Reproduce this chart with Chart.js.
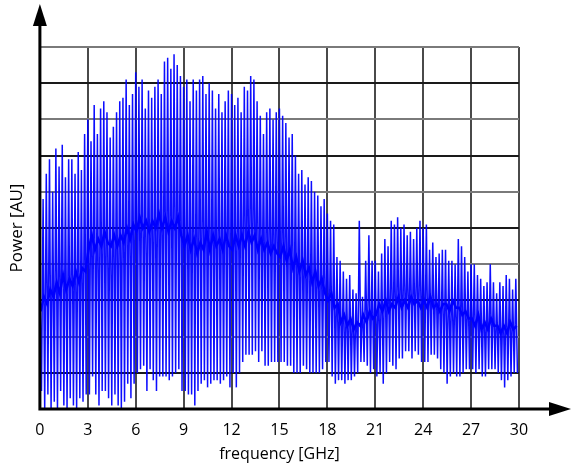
<!DOCTYPE html>
<html>
<head>
<meta charset="utf-8">
<script src="https://cdn.jsdelivr.net/npm/chart.js@4"></script>
<style>
  html, body { margin: 0; padding: 0; background: #fff; }
  #wrap { width: 573px; height: 466px; position: relative; }
</style>
</head>
<body>
<div id="wrap"><canvas id="spectrum"></canvas></div>
<script>
// x ticks (GHz)
const freqTicks = [0, 3, 6, 9, 12, 15, 18, 21, 24, 27, 30];
const stepGHz = 0.2;

// peak (upper) values of each oscillation, one every 0.2 GHz
const peaks = [
  3.3, 5.8, 6.5, 6.9, 6.0, 7.2, 6.7, 7.3, 6.4, 6.9, 6.9, 6.5, 7.1, 6.6, 7.6,
  8.0, 7.4, 8.4, 7.6, 8.3, 8.5, 8.2, 7.5, 7.8, 8.2, 8.5, 8.6, 9.1, 8.4, 8.7,
  9.3, 8.9, 9.1, 8.3, 8.8, 8.6, 8.9, 9.1, 8.7, 9.6, 9.7, 9.4, 9.8, 9.5, 9.2,
  8.9, 9.1, 8.5, 9.1, 8.8, 9.1, 9.2, 8.7, 9.0, 8.8, 8.3, 8.7, 8.2, 8.5, 8.8,
  8.7, 8.4, 8.6, 8.2, 8.9, 8.8, 9.2, 9.1, 8.5, 8.1, 7.6, 8.2, 8.3, 8.0, 8.2,
  8.3, 8.1, 7.9, 7.5, 7.6, 7.0, 6.5, 6.6, 6.2, 6.4, 6.3, 6.0, 5.9, 5.6, 5.8,
  5.4, 5.2, 5.1, 4.2, 4.1, 3.8, 3.6, 3.7, 3.3, 3.2, 5.2, 3.1, 4.1, 4.8, 4.1,
  4.1, 3.8, 4.3, 4.7, 4.5, 5.2, 5.1, 5.3, 5.0, 5.1, 4.8, 4.9, 4.7, 5.0, 5.2,
  5.0, 5.1, 4.4, 4.6, 4.2, 4.3, 4.4, 4.4, 4.1, 4.1, 4.0, 4.7, 4.5, 4.2, 3.8,
  4.0, 4.0, 3.7, 3.6, 3.4, 3.5, 4.0, 3.5, 3.2, 3.5, 3.4, 3.7, 3.6, 3.3, 3.6
];

// trough (lower) values, same spacing
const troughs = [
  0.5, 0.0, 0.4, 0.0, 0.2, 0.0, 0.5, 0.1, 0.0, 0.3, 0.1, 0.0, 0.3, 0.2, 0.4,
  0.4, 0.9, 0.4, 0.1, 0.5, 0.5, 0.3, 0.1, 0.4, 0.1, 0.0, 0.2, 0.7, 0.3, 0.7,
  1.0, 1.1, 1.2, 0.5, 1.1, 0.8, 0.5, 0.9, 0.9, 0.9, 0.8, 0.9, 1.0, 1.1, 0.5,
  0.5, 0.4, 0.4, 0.1, 0.5, 0.7, 0.8, 0.6, 0.7, 0.8, 0.8, 0.7, 0.8, 0.9, 0.6,
  1.0, 0.6, 1.0, 1.3, 1.5, 1.5, 1.5, 1.6, 1.3, 1.6, 1.2, 1.2, 1.3, 1.3, 1.3,
  1.3, 1.3, 1.2, 1.2, 1.0, 1.0, 1.0, 1.2, 1.1, 1.0, 1.0, 1.0, 1.0, 1.1, 1.3,
  1.3, 0.9, 0.7, 0.8, 0.8, 0.7, 0.8, 0.8, 0.9, 1.0, 1.3, 1.3, 1.2, 1.0, 1.1,
  0.9, 1.0, 0.7, 1.0, 1.3, 1.2, 1.1, 1.4, 1.4, 1.6, 1.6, 1.4, 1.6, 1.5, 1.3,
  1.3, 1.3, 1.5, 1.5, 1.4, 1.1, 1.0, 0.7, 0.9, 1.0, 0.9, 0.9, 1.0, 1.1, 1.1,
  1.1, 1.0, 1.1, 0.9, 0.9, 1.1, 1.1, 1.1, 1.0, 0.8, 0.6, 0.8, 0.9, 1.0, 1.0
];

// the dense middle band (running level of the signal)
const middle = [
  2.7, 3.1, 2.9, 3.3, 3.1, 3.5, 3.2, 3.7, 3.3, 3.6, 3.4, 3.8, 3.5, 3.9, 3.8,
  4.4, 4.8, 4.4, 4.7, 4.5, 4.9, 4.6, 4.5, 4.8, 4.5, 4.8, 4.6, 5.0, 4.7, 5.1,
  4.9, 5.3, 5.0, 5.2, 4.9, 5.2, 5.0, 5.4, 5.0, 5.3, 4.9, 5.2, 5.0, 5.3, 4.8,
  4.5, 4.8, 4.4, 4.7, 4.3, 4.6, 4.4, 4.9, 4.4, 4.8, 4.5, 4.7, 4.4, 4.8, 4.5,
  4.4, 4.8, 4.5, 4.8, 4.5, 4.9, 4.6, 4.8, 4.4, 4.7, 4.4, 4.6, 4.3, 4.5, 4.3,
  4.2, 4.5, 4.1, 4.4, 3.9, 4.2, 3.8, 4.1, 3.7, 3.9, 3.5, 3.8, 3.4, 3.6, 3.2,
  3.0, 3.2, 2.8, 2.9, 2.4, 2.6, 2.3, 2.5, 2.2, 2.4, 2.3, 2.6, 2.4, 2.7, 2.5,
  2.6, 2.9, 2.7, 3.0, 2.7, 2.9, 2.8, 3.1, 2.8, 3.0, 2.8, 3.1, 2.9, 3.0, 2.8,
  3.0, 2.8, 3.1, 2.8, 2.9, 2.7, 2.9, 2.9, 2.7, 3.0, 2.8, 2.8, 2.6, 2.7, 2.5,
  2.5, 2.3, 2.6, 2.2, 2.4, 2.2, 2.5, 2.3, 2.3, 2.1, 2.3, 2.1, 2.4, 2.2, 2.3
];

const signal = [];
peaks.forEach((p, i) => {
  signal.push({ x: i * stepGHz, y: p });
  signal.push({ x: i * stepGHz + stepGHz / 2, y: troughs[i] });
});
const band = middle.map((m, i) => ({ x: i * stepGHz + stepGHz / 4, y: m }));

// axis lines with arrow heads
const arrowAxes = {
  id: "arrowAxes",
  afterDraw(chart) {
    const { ctx } = chart;
    const { left, bottom } = chart.chartArea;
    ctx.save();
    ctx.strokeStyle = "#000";
    ctx.fillStyle = "#000";
    ctx.lineWidth = 3;
    ctx.beginPath();
    ctx.moveTo(left, bottom + 1.5);
    ctx.lineTo(left, 22);
    ctx.moveTo(left - 1.5, bottom);
    ctx.lineTo(chart.width - 20, bottom);
    ctx.stroke();
    ctx.beginPath();
    ctx.moveTo(left, 4);
    ctx.lineTo(left - 7, 26);
    ctx.lineTo(left + 7, 26);
    ctx.closePath();
    ctx.fill();
    ctx.beginPath();
    ctx.moveTo(chart.width - 2, bottom);
    ctx.lineTo(chart.width - 24, bottom - 7);
    ctx.lineTo(chart.width - 24, bottom + 7);
    ctx.closePath();
    ctx.fill();
    ctx.restore();
  },
};

Chart.defaults.font.family = "'Open Sans', 'DejaVu Sans', sans-serif";
Chart.defaults.color = "#000";

new Chart(document.getElementById("spectrum"), {
  type: "line",
  data: {
    datasets: [
      {
        data: signal,
        borderColor: "rgba(0, 0, 255, 0.95)",
        borderWidth: 1.5,
        pointRadius: 0,
        tension: 0,
      },
      {
        data: band,
        borderColor: "rgba(0, 0, 255, 1)",
        borderWidth: 2.5,
        pointRadius: 0,
        tension: 0,
      },
    ],
  },
  options: {
    responsive: true,
    maintainAspectRatio: false,
    animation: false,
    layout: { padding: { top: 47, right: 54, left: 7, bottom: 0 } },
    plugins: {
      legend: { display: false },
      tooltip: { enabled: false },
    },
    scales: {
      x: {
        type: "linear",
        min: 0,
        max: 30,
        afterBuildTicks: (axis) => {
          axis.ticks = freqTicks.map((v) => ({ value: v }));
        },
        ticks: { font: { size: 16 }, padding: 12, maxRotation: 0 },
        grid: {
          color: "#4a4a4a",
          lineWidth: 2,
          drawTicks: false,
        },
        border: { display: false },
        title: {
          display: true,
          text: "frequency [GHz]",
          font: { size: 16 },
          padding: { top: -7, bottom: 1.5 },
        },
      },
      y: {
        min: 0,
        max: 10,
        ticks: { display: false, stepSize: 1 },
        grid: {
          color: (c) => (c.index % 2 ? "#1a1a1a" : "#7a7a7a"),
          lineWidth: 2,
          drawTicks: false,
        },
        border: { display: false },
        title: {
          display: true,
          text: "Power [AU]",
          font: { size: 17 },
          padding: { top: 0, bottom: 12.5 },
        },
      },
    },
  },
  plugins: [arrowAxes],
});
</script>
</body>
</html>
